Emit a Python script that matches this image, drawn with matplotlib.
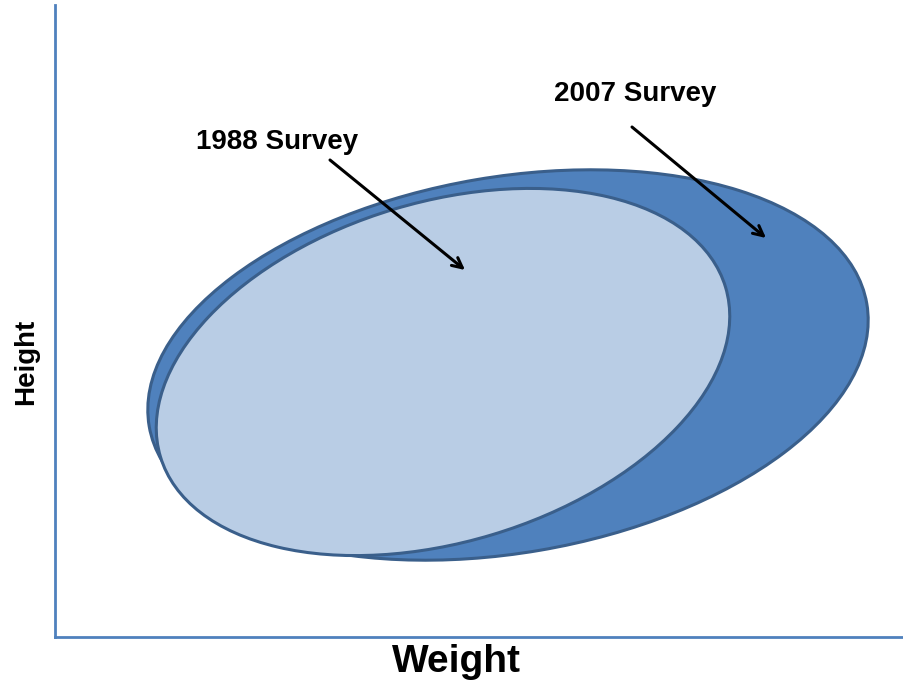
import matplotlib
matplotlib.use("Agg")
import matplotlib.pyplot as plt
from matplotlib.patches import Ellipse

# survey ellipses: centre x, centre y, width, height, tilt (degrees)
surveys = ["2007 Survey", "1988 Survey"]
centre_x = [508, 443]
centre_y = [365, 372]
widths = [728, 590]
heights = [376, 340]
angles = [-9.7, -16.7]
fills = ["#4F81BD", "#B9CDE5"]

# label text positions and arrow ends
label_x = [635, 277]
label_y = [101, 149]
arrow_start = [(632, 127), (330, 160)]
arrow_end = [(766, 238), (465, 270)]

x_label = "Weight"
y_label = "Height"

plt.rcParams['font.family'] = ['Liberation Sans', 'DejaVu Sans']

fig = plt.figure(figsize=(9.04, 6.84), dpi=100)
ax = fig.add_axes([55 / 904, 47 / 684, 849 / 904, 632 / 684])
ax.set_xlim(55, 904)
ax.set_ylim(637, 5)

for i in range(len(surveys)):
    e = Ellipse((centre_x[i], centre_y[i]), widths[i], heights[i], angle=angles[i],
                facecolor=fills[i], edgecolor="#3A5F8B", linewidth=2.2, zorder=2 + i)
    ax.add_patch(e)
    ax.text(label_x[i], label_y[i], surveys[i], ha="center", va="baseline",
            fontsize=20, fontweight="bold", color="black", zorder=5)
    ax.annotate("", xy=arrow_end[i], xytext=arrow_start[i],
                arrowprops=dict(arrowstyle="->", color="black", lw=2.2,
                                mutation_scale=18, shrinkA=0, shrinkB=0),
                zorder=6)

for side in ["top", "right"]:
    ax.spines[side].set_visible(False)
for side in ["left", "bottom"]:
    ax.spines[side].set_color("#4F81BD")
    ax.spines[side].set_linewidth(2)
ax.set_xticks([])
ax.set_yticks([])

ax.text(456, 672, x_label, ha="center", va="baseline", fontsize=28,
        fontweight="bold", clip_on=False)
ax.text(26, 362, y_label, ha="center", va="center", fontsize=20,
        fontweight="bold", rotation=90, clip_on=False)

fig.savefig("out.png", dpi=100)
